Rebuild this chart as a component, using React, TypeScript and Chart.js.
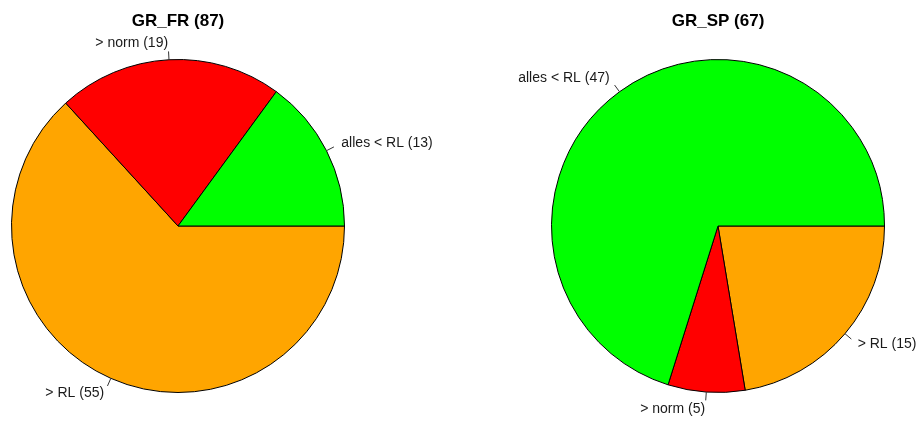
import React, { useEffect, useRef } from "react";
import { Chart, registerables } from "chart.js";

Chart.register(...registerables);

const categories = ["alles < RL", "> norm", "> RL"];
const colors = ["#00FF00", "#FF0000", "#FFA500"];
const frValues = [13, 19, 55];
const spValues = [47, 5, 15];
const frName = "GR_FR";
const spName = "GR_SP";

const FONT = "'Liberation Sans', Arial, Helvetica, sans-serif";

const pieLabelsPlugin = {
  id: "pieLabels",
  afterDraw(chart: any, _args: any, opts: any) {
    const ctx = chart.ctx;
    const meta = chart.getDatasetMeta(0);
    const labels = chart.data.labels as string[];
    const values = chart.data.datasets[0].data as number[];
    ctx.save();
    let cx = 0;
    meta.data.forEach((arc: any, i: number) => {
      const p = arc.getProps(["x", "y", "startAngle", "endAngle", "outerRadius"], true);
      cx = p.x;
      const mid = (p.startAngle + p.endAngle) / 2;
      const r = p.outerRadius;
      const c = Math.cos(mid);
      const s = Math.sin(mid);
      ctx.strokeStyle = "#333";
      ctx.lineWidth = 1;
      ctx.beginPath();
      ctx.moveTo(p.x + r * c, p.y + r * s);
      ctx.lineTo(p.x + 1.05 * r * c, p.y + 1.05 * r * s);
      ctx.stroke();
      ctx.fillStyle = "#1a1a1a";
      ctx.font = `14px ${FONT}`;
      ctx.textBaseline = "middle";
      ctx.textAlign = c >= 0 ? "left" : "right";
      ctx.fillText(`${labels[i]} (${values[i]})`, p.x + 1.1 * r * c, p.y + 1.1 * r * s);
    });
    ctx.font = `bold 17px ${FONT}`;
    ctx.fillStyle = "#000";
    ctx.textAlign = "center";
    ctx.textBaseline = "middle";
    ctx.fillText(opts.title, cx, 21);
    ctx.restore();
  },
};

function PieCanvas(props: {
  values: number[];
  name: string;
  width: number;
  padding: { left: number; right: number; top: number; bottom: number };
}) {
  const ref = useRef<HTMLCanvasElement | null>(null);
  useEffect(() => {
    if (!ref.current) return;
    const total = props.values.reduce((a, b) => a + b, 0);
    const chart = new Chart(ref.current, {
      type: "pie",
      data: {
        labels: [...categories].reverse(),
        datasets: [
          {
            data: [...props.values].reverse(),
            backgroundColor: [...colors].reverse(),
            borderColor: "#000",
            borderWidth: 1,
          },
        ],
      },
      options: {
        responsive: false,
        animation: false,
        rotation: 90,
        layout: { padding: props.padding },
        plugins: {
          legend: { display: false },
          tooltip: { enabled: false },
          pieLabels: { title: `${props.name} (${total})` },
        } as any,
      },
      plugins: [pieLabelsPlugin],
    });
    return () => chart.destroy();
  }, []);
  return <canvas ref={ref} width={props.width} height={423} style={{ display: "block" }} />;
}

export default function App() {
  return (
    <div
      style={{
        position: "fixed",
        left: 0,
        top: 0,
        width: 923,
        height: 423,
        background: "#fff",
        display: "flex",
      }}
    >
      <PieCanvas values={frValues} name={frName} width={460} padding={{ left: 11, right: 115, top: 59, bottom: 30 }} />
      <PieCanvas values={spValues} name={spName} width={463} padding={{ left: 91, right: 38, top: 59, bottom: 30 }} />
    </div>
  );
}
